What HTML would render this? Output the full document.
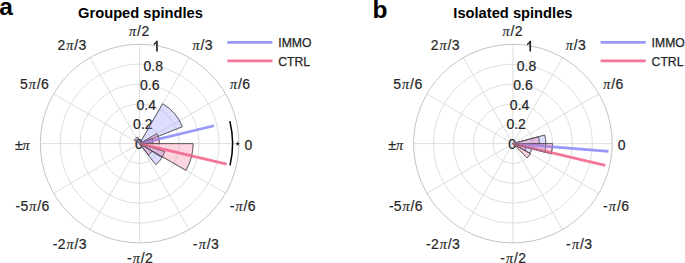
<!DOCTYPE html>
<html><head><meta charset="utf-8"><style>
html,body{margin:0;padding:0;background:#fff;}
body{width:685px;height:263px;overflow:hidden;position:relative;}
svg{position:absolute;left:0;top:0;}
.t{font-family:"Liberation Sans",sans-serif;font-size:14px;fill:#262626;stroke:#262626;stroke-width:0.2px;}
.pi{font-family:"Liberation Serif",serif;font-style:italic;font-size:14.2px;stroke-width:0.15px;}
.title{font-family:"Liberation Sans",sans-serif;font-size:14.7px;font-weight:bold;fill:#000;}
.pl{font-family:"Liberation Sans",sans-serif;font-size:24.5px;font-weight:bold;fill:#000;}
.lg{font-family:"Liberation Sans",sans-serif;font-size:12.2px;fill:#262626;stroke:#262626;stroke-width:0.25px;}
</style></head><body>
<svg width="685" height="263" viewBox="0 0 685 263">
<circle cx="139.6" cy="143.6" r="19.86" fill="none" stroke="#dedede" stroke-width="1"/>
<circle cx="139.6" cy="143.6" r="39.72" fill="none" stroke="#dedede" stroke-width="1"/>
<circle cx="139.6" cy="143.6" r="59.58" fill="none" stroke="#dedede" stroke-width="1"/>
<circle cx="139.6" cy="143.6" r="79.44" fill="none" stroke="#dedede" stroke-width="1"/>
<line x1="139.6" y1="143.6" x2="238.90" y2="143.60" stroke="#dedede" stroke-width="1"/>
<line x1="139.6" y1="143.6" x2="225.60" y2="93.95" stroke="#dedede" stroke-width="1"/>
<line x1="139.6" y1="143.6" x2="189.25" y2="57.60" stroke="#dedede" stroke-width="1"/>
<line x1="139.6" y1="143.6" x2="139.60" y2="44.30" stroke="#dedede" stroke-width="1"/>
<line x1="139.6" y1="143.6" x2="89.95" y2="57.60" stroke="#dedede" stroke-width="1"/>
<line x1="139.6" y1="143.6" x2="53.60" y2="93.95" stroke="#dedede" stroke-width="1"/>
<line x1="139.6" y1="143.6" x2="40.30" y2="143.60" stroke="#dedede" stroke-width="1"/>
<line x1="139.6" y1="143.6" x2="53.60" y2="193.25" stroke="#dedede" stroke-width="1"/>
<line x1="139.6" y1="143.6" x2="89.95" y2="229.60" stroke="#dedede" stroke-width="1"/>
<line x1="139.6" y1="143.6" x2="139.60" y2="242.90" stroke="#dedede" stroke-width="1"/>
<line x1="139.6" y1="143.6" x2="189.25" y2="229.60" stroke="#dedede" stroke-width="1"/>
<line x1="139.6" y1="143.6" x2="225.60" y2="193.25" stroke="#dedede" stroke-width="1"/>
<circle cx="139.6" cy="143.6" r="99.3" fill="none" stroke="#c4c4c4" stroke-width="1"/>
<circle cx="512.9" cy="143.6" r="19.86" fill="none" stroke="#dedede" stroke-width="1"/>
<circle cx="512.9" cy="143.6" r="39.72" fill="none" stroke="#dedede" stroke-width="1"/>
<circle cx="512.9" cy="143.6" r="59.58" fill="none" stroke="#dedede" stroke-width="1"/>
<circle cx="512.9" cy="143.6" r="79.44" fill="none" stroke="#dedede" stroke-width="1"/>
<line x1="512.9" y1="143.6" x2="612.20" y2="143.60" stroke="#dedede" stroke-width="1"/>
<line x1="512.9" y1="143.6" x2="598.90" y2="93.95" stroke="#dedede" stroke-width="1"/>
<line x1="512.9" y1="143.6" x2="562.55" y2="57.60" stroke="#dedede" stroke-width="1"/>
<line x1="512.9" y1="143.6" x2="512.90" y2="44.30" stroke="#dedede" stroke-width="1"/>
<line x1="512.9" y1="143.6" x2="463.25" y2="57.60" stroke="#dedede" stroke-width="1"/>
<line x1="512.9" y1="143.6" x2="426.90" y2="93.95" stroke="#dedede" stroke-width="1"/>
<line x1="512.9" y1="143.6" x2="413.60" y2="143.60" stroke="#dedede" stroke-width="1"/>
<line x1="512.9" y1="143.6" x2="426.90" y2="193.25" stroke="#dedede" stroke-width="1"/>
<line x1="512.9" y1="143.6" x2="463.25" y2="229.60" stroke="#dedede" stroke-width="1"/>
<line x1="512.9" y1="143.6" x2="512.90" y2="242.90" stroke="#dedede" stroke-width="1"/>
<line x1="512.9" y1="143.6" x2="562.55" y2="229.60" stroke="#dedede" stroke-width="1"/>
<line x1="512.9" y1="143.6" x2="598.90" y2="193.25" stroke="#dedede" stroke-width="1"/>
<circle cx="512.9" cy="143.6" r="99.3" fill="none" stroke="#c4c4c4" stroke-width="1"/>
<text x="129.10" y="36.1" class="t"><tspan class="pi" dx="0">π</tspan><tspan dx="0.9">/</tspan><tspan dx="0.4">2</tspan></text>
<text x="192.40" y="50.2" class="t"><tspan class="pi" dx="0">π</tspan><tspan dx="0.9">/</tspan><tspan dx="0.4">3</tspan></text>
<text x="230.00" y="88.6" class="t"><tspan class="pi" dx="0">π</tspan><tspan dx="0.9">/</tspan><tspan dx="0.4">6</tspan></text>
<text x="244.40" y="149.7" class="t">0</text>
<text x="229.70" y="210.5" class="t">-<tspan class="pi" dx="1.2">π</tspan><tspan dx="0.9">/</tspan><tspan dx="0.4">6</tspan></text>
<text x="192.80" y="248.7" class="t">-<tspan class="pi" dx="1.2">π</tspan><tspan dx="0.9">/</tspan><tspan dx="0.4">3</tspan></text>
<text x="126.90" y="263.1" class="t">-<tspan class="pi" dx="1.2">π</tspan><tspan dx="0.9">/</tspan><tspan dx="0.4">2</tspan></text>
<text x="52.80" y="248.7" class="t">-<tspan dx="0.2">2</tspan><tspan class="pi" dx="1.0">π</tspan><tspan dx="0.9">/</tspan><tspan dx="0.4">3</tspan></text>
<text x="15.60" y="210.5" class="t">-<tspan dx="0.2">5</tspan><tspan class="pi" dx="1.0">π</tspan><tspan dx="0.9">/</tspan><tspan dx="0.4">6</tspan></text>
<text x="14.90" y="149.9" class="t">±<tspan class="pi" dx="0">π</tspan></text>
<text x="20.00" y="88.6" class="t">5<tspan class="pi" dx="1.0">π</tspan><tspan dx="0.9">/</tspan><tspan dx="0.4">6</tspan></text>
<text x="57.40" y="50.2" class="t">2<tspan class="pi" dx="1.0">π</tspan><tspan dx="0.9">/</tspan><tspan dx="0.4">3</tspan></text>
<text x="138.90" y="149.40" text-anchor="middle" class="t">0</text>
<text x="142.85" y="129.44" text-anchor="middle" class="t">0.2</text>
<text x="146.30" y="109.88" text-anchor="middle" class="t">0.4</text>
<text x="149.75" y="90.33" text-anchor="middle" class="t">0.6</text>
<text x="153.19" y="70.77" text-anchor="middle" class="t">0.8</text>
<path d="M157.80,40.80 L157.80,51.60 L156.10,51.60 L156.10,43.60 L155.00,44.40 L153.70,44.90 L153.70,43.50 L155.20,42.50 L156.30,40.80 Z" fill="#262626"/>
<text x="502.40" y="36.1" class="t"><tspan class="pi" dx="0">π</tspan><tspan dx="0.9">/</tspan><tspan dx="0.4">2</tspan></text>
<text x="565.70" y="50.2" class="t"><tspan class="pi" dx="0">π</tspan><tspan dx="0.9">/</tspan><tspan dx="0.4">3</tspan></text>
<text x="603.30" y="88.6" class="t"><tspan class="pi" dx="0">π</tspan><tspan dx="0.9">/</tspan><tspan dx="0.4">6</tspan></text>
<text x="617.70" y="149.7" class="t">0</text>
<text x="603.00" y="210.5" class="t">-<tspan class="pi" dx="1.2">π</tspan><tspan dx="0.9">/</tspan><tspan dx="0.4">6</tspan></text>
<text x="566.10" y="248.7" class="t">-<tspan class="pi" dx="1.2">π</tspan><tspan dx="0.9">/</tspan><tspan dx="0.4">3</tspan></text>
<text x="500.20" y="263.1" class="t">-<tspan class="pi" dx="1.2">π</tspan><tspan dx="0.9">/</tspan><tspan dx="0.4">2</tspan></text>
<text x="426.10" y="248.7" class="t">-<tspan dx="0.2">2</tspan><tspan class="pi" dx="1.0">π</tspan><tspan dx="0.9">/</tspan><tspan dx="0.4">3</tspan></text>
<text x="388.90" y="210.5" class="t">-<tspan dx="0.2">5</tspan><tspan class="pi" dx="1.0">π</tspan><tspan dx="0.9">/</tspan><tspan dx="0.4">6</tspan></text>
<text x="388.20" y="149.9" class="t">±<tspan class="pi" dx="0">π</tspan></text>
<text x="393.30" y="88.6" class="t">5<tspan class="pi" dx="1.0">π</tspan><tspan dx="0.9">/</tspan><tspan dx="0.4">6</tspan></text>
<text x="430.70" y="50.2" class="t">2<tspan class="pi" dx="1.0">π</tspan><tspan dx="0.9">/</tspan><tspan dx="0.4">3</tspan></text>
<text x="512.20" y="149.40" text-anchor="middle" class="t">0</text>
<text x="516.15" y="129.44" text-anchor="middle" class="t">0.2</text>
<text x="519.60" y="109.88" text-anchor="middle" class="t">0.4</text>
<text x="523.05" y="90.33" text-anchor="middle" class="t">0.6</text>
<text x="526.49" y="70.77" text-anchor="middle" class="t">0.8</text>
<path d="M531.10,40.80 L531.10,51.60 L529.40,51.60 L529.40,43.60 L528.30,44.40 L527.00,44.90 L527.00,43.50 L528.50,42.50 L529.60,40.80 Z" fill="#262626"/>
<path d="M139.60,143.60 L182.40,126.74 A46.00,46.00 0 0 0 162.60,103.76 Z" fill="none" stroke="#4a4a4a" stroke-width="0.8" stroke-linejoin="miter"/>
<path d="M139.60,143.60 L152.98,142.90 A13.40,13.40 0 0 0 152.07,138.69 Z" fill="none" stroke="#4a4a4a" stroke-width="0.8" stroke-linejoin="miter"/>
<path d="M139.60,143.60 L162.02,157.34 A26.30,26.30 0 0 0 164.67,151.55 Z" fill="none" stroke="#4a4a4a" stroke-width="0.8" stroke-linejoin="miter"/>
<path d="M139.60,143.60 L155.66,164.68 A26.50,26.50 0 0 0 162.19,157.45 Z" fill="none" stroke="#4a4a4a" stroke-width="0.8" stroke-linejoin="miter"/>
<path d="M139.60,143.60 L137.92,137.32 A6.50,6.50 0 0 0 134.28,139.87 Z" fill="none" stroke="#4a4a4a" stroke-width="0.8" stroke-linejoin="miter"/>
<path d="M139.60,143.60 L159.50,143.60 A19.90,19.90 0 0 0 156.83,133.65 Z" fill="none" stroke="#4a4a4a" stroke-width="0.8" stroke-linejoin="miter"/>
<path d="M139.60,143.60 L185.93,170.35 A53.50,53.50 0 0 0 193.10,143.60 Z" fill="none" stroke="#4a4a4a" stroke-width="0.8" stroke-linejoin="miter"/>
<path d="M139.60,143.60 L148.53,155.03 A14.50,14.50 0 0 0 152.16,150.85 Z" fill="none" stroke="#4a4a4a" stroke-width="0.8" stroke-linejoin="miter"/>
<path d="M512.90,143.60 L545.90,143.60 A33.00,33.00 0 0 0 544.78,135.06 Z" fill="none" stroke="#4a4a4a" stroke-width="0.8" stroke-linejoin="miter"/>
<path d="M512.90,143.60 L544.78,152.14 A33.00,33.00 0 0 0 545.90,143.60 Z" fill="none" stroke="#4a4a4a" stroke-width="0.8" stroke-linejoin="miter"/>
<path d="M512.90,143.60 L529.79,153.35 A19.50,19.50 0 0 0 531.74,148.65 Z" fill="none" stroke="#4a4a4a" stroke-width="0.8" stroke-linejoin="miter"/>
<path d="M512.90,143.60 L539.40,143.60 A26.50,26.50 0 0 0 538.50,136.74 Z" fill="none" stroke="#4a4a4a" stroke-width="0.8" stroke-linejoin="miter"/>
<path d="M512.90,143.60 L551.15,153.85 A39.60,39.60 0 0 0 552.50,143.60 Z" fill="none" stroke="#4a4a4a" stroke-width="0.8" stroke-linejoin="miter"/>
<path d="M512.90,143.60 L527.18,157.88 A20.20,20.20 0 0 0 530.39,153.70 Z" fill="none" stroke="#4a4a4a" stroke-width="0.8" stroke-linejoin="miter"/>
<path d="M512.90,143.60 L525.02,150.60 A14.00,14.00 0 0 0 526.42,147.22 Z" fill="none" stroke="#4a4a4a" stroke-width="0.8" stroke-linejoin="miter"/>
<line x1="139.6" y1="143.6" x2="213.99" y2="125.74" stroke="rgb(152,152,253)" stroke-width="2.8" stroke-linecap="butt"/>
<line x1="139.6" y1="143.6" x2="226.60" y2="164.17" stroke="rgb(245,118,153)" stroke-width="2.8" stroke-linecap="butt"/>
<line x1="512.9" y1="143.6" x2="608.48" y2="151.46" stroke="rgb(152,152,253)" stroke-width="2.8" stroke-linecap="butt"/>
<line x1="512.9" y1="143.6" x2="605.29" y2="165.27" stroke="rgb(245,118,153)" stroke-width="2.8" stroke-linecap="butt"/>
<path d="M139.60,143.60 L182.40,126.74 A46.00,46.00 0 0 0 162.60,103.76 Z" fill="rgba(143,143,250,0.30)"/>
<path d="M139.60,143.60 L152.98,142.90 A13.40,13.40 0 0 0 152.07,138.69 Z" fill="rgba(143,143,250,0.30)"/>
<path d="M139.60,143.60 L162.02,157.34 A26.30,26.30 0 0 0 164.67,151.55 Z" fill="rgba(143,143,250,0.30)"/>
<path d="M139.60,143.60 L155.66,164.68 A26.50,26.50 0 0 0 162.19,157.45 Z" fill="rgba(143,143,250,0.30)"/>
<path d="M139.60,143.60 L137.92,137.32 A6.50,6.50 0 0 0 134.28,139.87 Z" fill="rgba(143,143,250,0.30)"/>
<path d="M139.60,143.60 L159.50,143.60 A19.90,19.90 0 0 0 156.83,133.65 Z" fill="rgba(240,105,145,0.28)"/>
<path d="M139.60,143.60 L185.93,170.35 A53.50,53.50 0 0 0 193.10,143.60 Z" fill="rgba(240,105,145,0.28)"/>
<path d="M139.60,143.60 L148.53,155.03 A14.50,14.50 0 0 0 152.16,150.85 Z" fill="rgba(240,105,145,0.28)"/>
<path d="M512.90,143.60 L545.90,143.60 A33.00,33.00 0 0 0 544.78,135.06 Z" fill="rgba(143,143,250,0.30)"/>
<path d="M512.90,143.60 L544.78,152.14 A33.00,33.00 0 0 0 545.90,143.60 Z" fill="rgba(143,143,250,0.30)"/>
<path d="M512.90,143.60 L529.79,153.35 A19.50,19.50 0 0 0 531.74,148.65 Z" fill="rgba(143,143,250,0.30)"/>
<path d="M512.90,143.60 L539.40,143.60 A26.50,26.50 0 0 0 538.50,136.74 Z" fill="rgba(240,105,145,0.28)"/>
<path d="M512.90,143.60 L551.15,153.85 A39.60,39.60 0 0 0 552.50,143.60 Z" fill="rgba(240,105,145,0.28)"/>
<path d="M512.90,143.60 L527.18,157.88 A20.20,20.20 0 0 0 530.39,153.70 Z" fill="rgba(240,105,145,0.28)"/>
<path d="M512.90,143.60 L525.02,150.60 A14.00,14.00 0 0 0 526.42,147.22 Z" fill="rgba(240,105,145,0.28)"/>
<g opacity="0.45">
<path d="M139.60,143.60 L182.40,126.74 A46.00,46.00 0 0 0 162.60,103.76 Z" fill="none" stroke="#4a4a4a" stroke-width="0.8" stroke-linejoin="miter"/>
<path d="M139.60,143.60 L152.98,142.90 A13.40,13.40 0 0 0 152.07,138.69 Z" fill="none" stroke="#4a4a4a" stroke-width="0.8" stroke-linejoin="miter"/>
<path d="M139.60,143.60 L162.02,157.34 A26.30,26.30 0 0 0 164.67,151.55 Z" fill="none" stroke="#4a4a4a" stroke-width="0.8" stroke-linejoin="miter"/>
<path d="M139.60,143.60 L155.66,164.68 A26.50,26.50 0 0 0 162.19,157.45 Z" fill="none" stroke="#4a4a4a" stroke-width="0.8" stroke-linejoin="miter"/>
<path d="M139.60,143.60 L137.92,137.32 A6.50,6.50 0 0 0 134.28,139.87 Z" fill="none" stroke="#4a4a4a" stroke-width="0.8" stroke-linejoin="miter"/>
<path d="M139.60,143.60 L159.50,143.60 A19.90,19.90 0 0 0 156.83,133.65 Z" fill="none" stroke="#4a4a4a" stroke-width="0.8" stroke-linejoin="miter"/>
<path d="M139.60,143.60 L185.93,170.35 A53.50,53.50 0 0 0 193.10,143.60 Z" fill="none" stroke="#4a4a4a" stroke-width="0.8" stroke-linejoin="miter"/>
<path d="M139.60,143.60 L148.53,155.03 A14.50,14.50 0 0 0 152.16,150.85 Z" fill="none" stroke="#4a4a4a" stroke-width="0.8" stroke-linejoin="miter"/>
<path d="M512.90,143.60 L545.90,143.60 A33.00,33.00 0 0 0 544.78,135.06 Z" fill="none" stroke="#4a4a4a" stroke-width="0.8" stroke-linejoin="miter"/>
<path d="M512.90,143.60 L544.78,152.14 A33.00,33.00 0 0 0 545.90,143.60 Z" fill="none" stroke="#4a4a4a" stroke-width="0.8" stroke-linejoin="miter"/>
<path d="M512.90,143.60 L529.79,153.35 A19.50,19.50 0 0 0 531.74,148.65 Z" fill="none" stroke="#4a4a4a" stroke-width="0.8" stroke-linejoin="miter"/>
<path d="M512.90,143.60 L539.40,143.60 A26.50,26.50 0 0 0 538.50,136.74 Z" fill="none" stroke="#4a4a4a" stroke-width="0.8" stroke-linejoin="miter"/>
<path d="M512.90,143.60 L551.15,153.85 A39.60,39.60 0 0 0 552.50,143.60 Z" fill="none" stroke="#4a4a4a" stroke-width="0.8" stroke-linejoin="miter"/>
<path d="M512.90,143.60 L527.18,157.88 A20.20,20.20 0 0 0 530.39,153.70 Z" fill="none" stroke="#4a4a4a" stroke-width="0.8" stroke-linejoin="miter"/>
<path d="M512.90,143.60 L525.02,150.60 A14.00,14.00 0 0 0 526.42,147.22 Z" fill="none" stroke="#4a4a4a" stroke-width="0.8" stroke-linejoin="miter"/>
</g>
<path d="M230.03,165.31 A93,93 0 0 0 229.84,121.10" fill="none" stroke="#000" stroke-width="1.5"/>
<path d="M237.70,141.30 L237.11,142.89 L235.42,142.96 L236.75,144.01 L236.29,145.64 L237.70,144.70 L239.11,145.64 L238.65,144.01 L239.98,142.96 L238.29,142.89 Z" fill="#1a1a1a"/>
<line x1="227.30" y1="42.45" x2="272.40" y2="42.45" stroke="rgb(152,152,253)" stroke-width="2.8"/>
<line x1="227.30" y1="60.9" x2="272.40" y2="60.9" stroke="rgb(245,118,153)" stroke-width="2.8"/>
<text x="278.30" y="47.4" class="lg">IMMO</text>
<text x="278.30" y="65.6" class="lg">CTRL</text>
<line x1="600.60" y1="42.45" x2="645.70" y2="42.45" stroke="rgb(152,152,253)" stroke-width="2.8"/>
<line x1="600.60" y1="60.9" x2="645.70" y2="60.9" stroke="rgb(245,118,153)" stroke-width="2.8"/>
<text x="651.60" y="47.4" class="lg">IMMO</text>
<text x="651.60" y="65.6" class="lg">CTRL</text>
<text x="140.5" y="17.8" text-anchor="middle" class="title">Grouped spindles</text>
<text x="512.9" y="17.8" text-anchor="middle" class="title">Isolated spindles</text>
<text x="-0.8" y="15.2" class="pl">a</text>
<text x="372.5" y="17.9" class="pl">b</text>
</svg></body></html>
